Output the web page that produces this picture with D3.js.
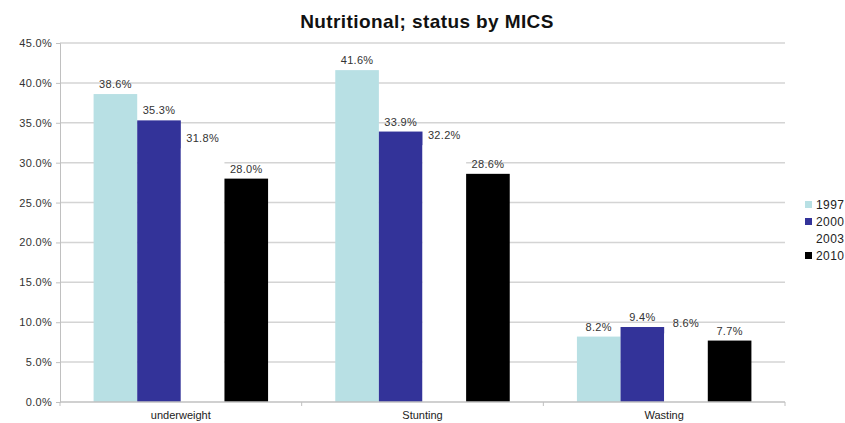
<!DOCTYPE html>
<html>
<head>
<meta charset="utf-8">
<script src="https://cdn.jsdelivr.net/npm/d3@7/dist/d3.min.js"></script>
<style>
  html, body { margin: 0; padding: 0; background: #fff; overflow: hidden; }
  svg { display: block; font-family: "Liberation Sans", Arial, sans-serif; }
</style>
</head>
<body>
<svg id="chart" width="845" height="423"></svg>
<script>
// Nutritional status indicators by MICS round (percent)
const categories = ["underweight", "Stunting", "Wasting"];
const years = ["1997", "2000", "2003", "2010"];
const values1997 = [38.6, 41.6, 8.2];
const values2000 = [35.3, 33.9, 9.4];
const values2003 = [31.8, 32.2, 8.6];
const values2010 = [28.0, 28.6, 7.7];
const yTicks = [0, 5, 10, 15, 20, 25, 30, 35, 40, 45];
const colors = ["#b8e0e4", "#333399", "#ffffff", "#000000"];

const seriesValues = [values1997, values2000, values2003, values2010];
const rows = categories.map((c, i) => ({
  category: c,
  values: years.map((y, j) => ({ year: y, value: seriesValues[j][i], color: colors[j] }))
}));

const svg = d3.select("#chart");
const margin = { left: 60, top: 43 };
const plotRight = 785, plotBottom = 402;

const x0 = d3.scaleBand().domain(categories).range([margin.left, plotRight])
  .paddingInner(0.278).paddingOuter(0.139);
const x1 = d3.scaleBand().domain(years).range([0, x0.bandwidth()]);
const y = d3.scaleLinear().domain([0, 45]).range([plotBottom, margin.top]);

// Title
svg.append("text")
  .attr("x", 427).attr("y", 28)
  .attr("text-anchor", "middle")
  .attr("font-size", 19).attr("font-weight", "bold")
  .attr("letter-spacing", 0.4)
  .attr("fill", "#111")
  .text("Nutritional; status by MICS");

// Horizontal gridlines
svg.append("g").selectAll("line").data(yTicks.filter(t => t > 0)).join("line")
  .attr("x1", margin.left).attr("x2", plotRight)
  .attr("y1", d => y(d)).attr("y2", d => y(d))
  .attr("stroke", "#d4d4d4").attr("stroke-width", 1.5);

// Y axis
const yAxis = d3.axisLeft(y).tickValues(yTicks).tickFormat(d => d3.format(".1f")(d) + "%").tickSize(4);
const yg = svg.append("g").attr("transform", `translate(${margin.left},0)`).call(yAxis);
yg.select(".domain").attr("stroke", "#c0c0c0");
yg.selectAll(".tick line").attr("stroke", "#c0c0c0");
yg.selectAll(".tick text").attr("font-size", 11).attr("fill", "#333")
  .attr("letter-spacing", 0.3)
  .attr("font-family", "Liberation Sans, Arial, sans-serif").attr("x", -8);

// Bars
const groups = svg.append("g").selectAll("g").data(rows).join("g")
  .attr("transform", d => `translate(${x0(d.category)},0)`);

groups.selectAll("rect").data(d => d.values).join("rect")
  .attr("x", d => x1(d.year))
  .attr("width", x1.bandwidth())
  .attr("y", d => y(d.value))
  .attr("height", d => plotBottom - y(d.value))
  .attr("fill", d => d.color);

// Value labels
groups.selectAll("text").data(d => d.values).join("text")
  .attr("x", d => x1(d.year) + x1.bandwidth() / 2)
  .attr("y", d => y(d.value) - 6)
  .attr("text-anchor", "middle")
  .attr("font-size", 11).attr("fill", "#333")
  .attr("letter-spacing", 0.3)
  .text(d => d3.format(".1f")(d.value) + "%");

// X axis
const xAxis = d3.axisBottom(x0).tickSize(0);
const xg = svg.append("g").attr("transform", `translate(0,${plotBottom})`).call(xAxis);
xg.select(".domain").attr("stroke", "#c0c0c0").attr("stroke-width", 1.5)
  .attr("d", `M${margin.left},0H${plotRight}`);
xg.selectAll(".tick text").attr("font-size", 11).attr("fill", "#222")
  .attr("font-family", "Liberation Sans, Arial, sans-serif").attr("dy", "1.25em");
// Category boundary ticks
svg.append("g").selectAll("line")
  .data(d3.range(categories.length + 1))
  .join("line")
  .attr("x1", i => margin.left + i * (plotRight - margin.left) / categories.length)
  .attr("x2", i => margin.left + i * (plotRight - margin.left) / categories.length)
  .attr("y1", plotBottom).attr("y2", plotBottom + 4)
  .attr("stroke", "#c0c0c0");

// Legend
const legend = svg.append("g").attr("transform", "translate(805,201)");
const li = legend.selectAll("g").data(years).join("g")
  .attr("transform", (d, i) => `translate(0,${i * 17})`);
li.append("rect").attr("width", 7).attr("height", 7)
  .attr("fill", (d, i) => colors[i]);
li.append("text").attr("x", 11).attr("y", 8)
  .attr("font-size", 12).attr("letter-spacing", 0.4)
  .attr("fill", "#222").text(d => d);
</script>
</body>
</html>
